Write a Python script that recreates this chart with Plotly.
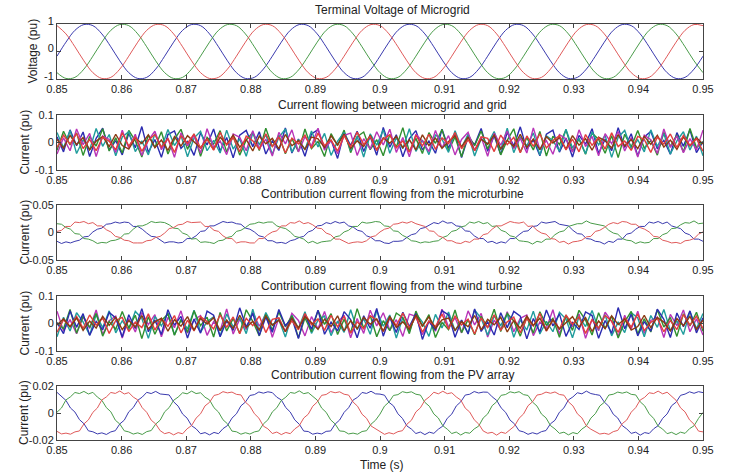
import numpy as np
import plotly.graph_objects as go

# ---------------- data ----------------
t_start, t_end = 0.85, 0.95
x_tickvals = [0.85, 0.86, 0.87, 0.88, 0.89, 0.90, 0.91, 0.92, 0.93, 0.94, 0.95]
x_ticktext = ["0.85", "0.86", "0.87", "0.88", "0.89", "0.9", "0.91", "0.92", "0.93", "0.94", "0.95"]

titles = ["Terminal Voltage of Microgrid",
          "Current flowing between microgrid and grid",
          "Contribution current flowing from the microturbine",
          "Contribution current flowing from the wind turbine",
          "Contribution current flowing from the PV array"]
ylabels = ["Voltage (pu)", "Current (pu)", "Current (pu)", "Current (pu)", "Current (pu)"]
y_tickvals = [[-1, 0, 1], [-0.1, 0, 0.1], [-0.05, 0, 0.05], [-0.1, 0, 0.1], [-0.02, 0, 0.02]]
y_ticktext = [["-1", "0", "1"], ["-0.1", "0", "0.1"], ["-0.05", "0", "0.05"],
              ["-0.1", "0", "0.1"], ["-0.02", "0", "0.02"]]

# terminal voltage (pu), three phases
volt_red = [.94,.64,.17,-.34,-.77,-.98,-.94,-.64,-.17,.34,.77,.98,
            .94,.64,.17,-.34,-.77,-.98,-.94,-.64,-.17,.34,.77,.98,
            .94,.64,.17,-.34,-.77,-.98,-.94,-.64,-.17,.34,.77,.98,
            .94,.64,.17,-.34,-.77,-.98,-.94,-.64,-.17,.34,.77,.98,
            .94,.64,.17,-.34,-.77,-.98,-.94,-.64,-.17,.34,.77,.98,
            .94,.64,.17,-.34,-.77,-.98,-.94,-.64,-.17,.34,.77,.98,
            .94]
volt_blue = [-.17,.34,.77,.98,.94,.64,.17,-.34,-.77,-.98,-.94,-.64,
             -.17,.34,.77,.98,.94,.64,.17,-.34,-.77,-.98,-.94,-.64,
             -.17,.34,.77,.98,.94,.64,.17,-.34,-.77,-.98,-.94,-.64,
             -.17,.34,.77,.98,.94,.64,.17,-.34,-.77,-.98,-.94,-.64,
             -.17,.34,.77,.98,.94,.64,.17,-.34,-.77,-.98,-.94,-.64,
             -.17,.34,.77,.98,.94,.64,.17,-.34,-.77,-.98,-.94,-.64,
             -.17]
volt_green = [-.77,-.98,-.94,-.64,-.17,.34,.77,.98,.94,.64,.17,-.34,
              -.77,-.98,-.94,-.64,-.17,.34,.77,.98,.94,.64,.17,-.34,
              -.77,-.98,-.94,-.64,-.17,.34,.77,.98,.94,.64,.17,-.34,
              -.77,-.98,-.94,-.64,-.17,.34,.77,.98,.94,.64,.17,-.34,
              -.77,-.98,-.94,-.64,-.17,.34,.77,.98,.94,.64,.17,-.34,
              -.77,-.98,-.94,-.64,-.17,.34,.77,.98,.94,.64,.17,-.34,
              -.77]

# noisy currents (pu), grid current / wind turbine
noise_blue = [0.021,-0.034,0.046,-0.012,0.038,-0.051,0.015,0.052,-0.028,0.007,-0.045,0.033,-0.019,0.058,-0.036,0.011,-0.054,0.029,0.042,-0.022,0.004,-0.047,0.035,-0.009,0.049,-0.031,0.018,-0.056,0.027,0.044,-0.015,0.039,-0.042,0.006,-0.029,0.053,-0.038,0.013,-0.05,0.031,0.047,-0.024,0.009,-0.058,0.036,-0.011,0.041,-0.033,0.022,-0.046,0.055,-0.017,0.028,-0.052,0.014,0.043,-0.027,0.005,-0.039,0.048,-0.021,0.034,-0.055,0.019,-0.008,0.051,-0.032,0.024,-0.044,0.037,-0.013,0.057,-0.025,0.01,-0.048,0.03,0.045,-0.035,0.016,-0.053,0.026,-0.006,0.05,-0.04,0.012,-0.03,0.054,-0.018,0.032,-0.049,0.02,0.04,-0.023,0.008,-0.043,0.036,-0.014,0.046,-0.037,0.003]
noise_green = [-0.028,0.041,-0.009,0.035,-0.047,0.022,-0.013,0.05,-0.031,0.017,-0.038,0.044,0.006,-0.053,0.027,-0.018,0.039,-0.042,0.012,0.048,-0.025,0.031,-0.05,0.019,-0.006,0.043,-0.035,0.024,-0.046,0.009,0.037,-0.029,0.052,-0.015,0.026,-0.041,0.014,-0.033,0.049,-0.022,0.004,-0.051,0.032,-0.011,0.045,-0.037,0.021,0.038,-0.026,0.01,-0.048,0.029,-0.017,0.054,-0.034,0.015,-0.04,0.036,-0.003,0.047,-0.03,0.02,-0.052,0.028,-0.012,0.042,-0.024,0.033,-0.045,0.008,0.05,-0.036,0.018,-0.027,0.04,-0.049,0.023,-0.008,0.046,-0.032,0.013,-0.043,0.034,0.011,-0.039,0.025,-0.055,0.03,-0.016,0.044,-0.021,0.007,-0.046,0.037,-0.014,0.027,-0.035,0.051,-0.019,0.003]
noise_cyan = [0.036,-0.019,0.044,-0.04,0.01,-0.027,0.051,-0.014,0.029,-0.048,0.02,0.039,-0.033,0.006,-0.045,0.032,-0.021,0.047,-0.011,0.025,-0.052,0.016,0.041,-0.03,0.008,-0.038,0.045,-0.024,0.013,-0.05,0.034,-0.007,0.028,-0.043,0.019,0.049,-0.035,0.011,-0.026,0.042,-0.016,0.033,-0.047,0.005,0.037,-0.029,0.022,-0.053,0.031,-0.01,0.046,-0.039,0.017,-0.022,0.05,-0.032,0.009,-0.044,0.027,0.012,-0.036,0.043,-0.018,0.03,-0.049,0.014,-0.005,0.04,-0.028,0.052,-0.037,0.021,-0.012,0.035,-0.046,0.024,0.007,-0.031,0.048,-0.02,0.015,-0.041,0.038,-0.009,0.026,-0.054,0.019,0.044,-0.023,0.01,-0.034,0.046,-0.015,0.032,-0.042,0.006,0.039,-0.027,0.023,-0.048]
noise_magenta = [-0.042,0.017,-0.03,0.049,-0.008,0.033,-0.051,0.024,0.011,-0.036,0.045,-0.02,0.03,-0.047,0.008,0.041,-0.026,0.015,-0.054,0.035,-0.012,0.027,-0.039,0.05,-0.017,0.006,-0.044,0.031,0.019,-0.03,0.043,-0.023,0.012,-0.049,0.037,-0.005,0.046,-0.034,0.021,-0.013,0.052,-0.028,0.009,-0.041,0.026,0.034,-0.047,0.014,-0.024,0.039,-0.009,0.048,-0.036,0.018,-0.052,0.03,0.005,-0.033,0.044,-0.019,0.025,-0.045,0.011,0.037,-0.029,0.02,-0.05,0.034,-0.01,0.042,-0.022,0.016,-0.038,0.053,-0.026,0.007,-0.043,0.029,0.013,-0.035,0.046,-0.015,0.022,-0.048,0.032,-0.004,0.04,-0.031,0.018,-0.053,0.027,0.01,-0.04,0.049,-0.018,0.024,-0.037,0.014,-0.027,0.045]
noise_brown = [0.012,-0.021,0.026,-0.008,0.018,-0.027,0.005,0.022,-0.015,0.03,-0.011,-0.024,0.016,-0.004,0.028,-0.019,0.009,-0.029,0.021,-0.013,0.025,0.003,-0.02,0.014,-0.026,0.019,-0.007,0.027,-0.017,0.011,-0.031,0.023,-0.005,0.015,-0.023,0.029,-0.012,0.007,-0.025,0.02,0.013,-0.018,0.024,-0.009,0.031,-0.022,0.006,-0.014,0.026,-0.028,0.017,-0.003,0.022,-0.019,0.01,-0.027,0.028,-0.011,0.016,-0.021,0.004,0.024,-0.016,0.02,-0.03,0.012,-0.006,0.027,-0.023,0.008,-0.015,0.03,-0.018,0.013,-0.026,0.021,-0.002,0.018,-0.024,0.025,-0.01,0.014,-0.028,0.019,0.006,-0.02,0.029,-0.013,0.011,-0.022,0.023,-0.007,0.026,-0.017,0.009,-0.025,0.02,-0.012,0.017,-0.005]
noise_red = [-0.018,0.027,-0.006,0.033,-0.022,0.011,-0.03,0.019,0.004,-0.026,0.035,-0.013,0.021,-0.032,0.008,0.029,-0.017,0.014,-0.036,0.024,-0.003,0.031,-0.02,0.012,-0.028,0.037,-0.009,0.018,-0.034,0.023,0.006,-0.024,0.032,-0.015,0.02,-0.038,0.016,-0.005,0.027,-0.021,0.034,-0.011,0.009,-0.031,0.025,-0.016,0.038,-0.007,0.022,-0.029,0.013,0.028,-0.019,0.006,-0.035,0.026,-0.012,0.03,-0.025,0.017,-0.004,0.036,-0.023,0.01,-0.03,0.021,0.015,-0.033,0.027,-0.008,0.019,-0.037,0.024,-0.014,0.032,-0.02,0.007,0.025,-0.027,0.012,-0.034,0.029,-0.01,0.018,-0.024,0.035,-0.015,0.005,-0.029,0.022,0.011,-0.036,0.02,-0.006,0.031,-0.018,0.026,-0.011,0.014,-0.032]

# microturbine current (pu)
mt_red = [.002,.004,.011,.011,.019,.018,.020,.016,.018,.012,.012,.005,.001,-.007,-.009,-.014,-.015,-.019,-.019,-.019,-.015,-.014,-.009,-.007,
          -.001,.007,.009,.014,.015,.020,.018,.019,.019,.011,.011,.004,.002,-.006,-.011,-.011,-.019,-.017,-.017,-.019,-.019,-.011,-.011,-.004,
          .001,.003,.012,.012,.018,.017,.021,.016,.018,.014,.008,.007,-.001,-.004,-.012,-.012,-.016,-.020,-.018,-.017,-.018,-.015,-.008,-.006,
          .001,.006,.008,.015,.016,.019,.017,.020,.016,.014,.011,.003,.002,-.006,-.009,-.015,-.015,-.019,-.020,-.016,-.018,-.012,-.012,-.004,
          -.002,.006,.012,.012,.016,.020,.018,.017,.019,.011,.012,.004,-.001,-.003,-.011,-.012,-.018,-.016,-.021,-.017,-.016,-.014,-.008,-.007,
          .002,.004,.009,.015,.018,.016,.020,.019,.015,.015,.009,.006,.001,-.007,-.008,-.014,-.016,-.019,-.018,-.020,-.015,-.014,-.011,-.003,
          .001]
mt_blue = [-.016,-.020,-.017,-.019,-.016,-.014,-.008,-.007,.001,.006,.008,.015,.016,.019,.017,.019,.018,.011,.011,.006,-.001,-.007,-.008,-.014,
           -.019,-.017,-.017,-.019,-.018,-.011,-.011,-.006,.002,.003,.012,.012,.016,.020,.018,.019,.016,.015,.008,.006,.001,-.006,-.008,-.015,
           -.015,-.019,-.018,-.020,-.015,-.013,-.009,-.007,.001,.004,.012,.013,.018,.016,.020,.017,.019,.012,.010,.004,.002,-.006,-.009,-.015,
           -.015,-.019,-.020,-.016,-.016,-.015,-.009,-.004,-.002,.007,.009,.014,.018,.016,.021,.017,.018,.012,.011,.003,.002,-.006,-.011,-.011,
           -.018,-.016,-.020,-.017,-.019,-.011,-.011,-.004,.002,.003,.011,.012,.019,.017,.018,.020,.015,.014,.012,.004,-.002,-.003,-.011,-.012,
           -.016,-.017,-.021,-.016,-.018,-.012,-.012,-.003,-.001,.006,.011,.011,.019,.017,.020,.016,.019,.012,.009,.007,-.001,-.004,-.012,-.012,
           -.016]
mt_green = [.016,.015,.009,.006,-.002,-.003,-.011,-.012,-.015,-.020,-.018,-.019,-.015,-.014,-.011,-.003,-.002,.006,.012,.012,.015,.020,.018,.019,
            .018,.014,.008,.007,-.001,-.004,-.012,-.011,-.018,-.017,-.018,-.020,-.015,-.014,-.009,-.007,.002,.004,.009,.015,.016,.019,.017,.019,
            .019,.012,.009,.007,.001,-.007,-.009,-.012,-.019,-.016,-.020,-.017,-.016,-.015,-.008,-.006,.001,.004,.011,.011,.019,.017,.018,.020,
            .019,.012,.011,.003,.002,-.005,-.009,-.015,-.016,-.019,-.017,-.018,-.016,-.015,-.009,-.006,.002,.004,.010,.012,.019,.017,.020,.016,
            .018,.011,.012,.004,.001,-.006,-.008,-.015,-.016,-.017,-.021,-.016,-.018,-.012,-.012,-.004,.001,.003,.011,.014,.016,.016,.021,.017,
            .015,.014,.012,.004,-.001,-.003,-.011,-.014,-.015,-.020,-.017,-.019,-.018,-.011,-.011,-.004,-.001,.007,.008,.014,.018,.017,.021,.016,
            .017]

# PV array current (pu)
pv_blue = [.0153,.0119,.0093,.0037,.0007,-.0049,-.0079,-.0132,-.0139,-.0155,-.0147,-.0159,-.0140,-.0131,-.0081,-.0053,.0009,.0040,.0094,.0118,.0153,.0144,.0160,.0141,
           .0138,.0134,.0083,.0051,-.0008,-.0038,-.0094,-.0117,-.0154,-.0145,-.0162,-.0144,-.0153,-.0116,-.0093,-.0038,-.0006,.0053,.0081,.0130,.0136,.0156,.0147,.0157,
           .0151,.0117,.0097,.0040,.0007,-.0051,-.0083,-.0134,-.0137,-.0157,-.0149,-.0155,-.0136,-.0133,-.0082,-.0052,.0005,.0039,.0096,.0116,.0152,.0145,.0161,.0142,
           .0140,.0132,.0079,.0053,-.0006,-.0040,-.0096,-.0119,-.0152,-.0141,-.0160,-.0142,-.0151,-.0120,-.0097,-.0039,-.0008,.0052,.0083,.0133,.0139,.0159,.0148,.0155,
           .0154,.0120,.0094,.0038,.0005,-.0053,-.0081,-.0131,-.0140,-.0158,-.0146,-.0156,-.0138,-.0130,-.0080,-.0054,.0006,.0038,.0097,.0119,.0150,.0142,.0162,.0144,
           .0137,.0131,.0081,.0050,-.0009,-.0037,-.0093,-.0118,-.0151,-.0142,-.0164,-.0145,-.0152,-.0117,-.0094,-.0040,-.0007,.0054,.0080,.0131,.0140,.0157,.0146,.0158,
           .0151]
pv_green = [.0006,.0037,.0097,.0120,.0152,.0144,.0160,.0141,.0153,.0118,.0094,.0040,.0009,-.0053,-.0082,-.0132,-.0140,-.0156,-.0147,-.0159,-.0138,-.0130,-.0082,-.0053,
            .0009,.0040,.0094,.0118,.0150,.0142,.0162,.0144,.0150,.0117,.0097,.0039,.0007,-.0050,-.0080,-.0134,-.0139,-.0157,-.0146,-.0156,-.0140,-.0133,-.0081,-.0051,
            .0008,.0039,.0093,.0117,.0152,.0146,.0164,.0143,.0151,.0120,.0096,.0036,.0005,-.0051,-.0081,-.0133,-.0136,-.0155,-.0149,-.0157,-.0137,-.0131,-.0083,-.0054,
            -.0008,.0051,.0081,.0130,.0136,.0158,.0150,.0157,.0139,.0133,.0079,.0050,-.0007,-.0037,-.0094,-.0120,-.0152,-.0141,-.0163,-.0144,-.0150,-.0118,-.0097,-.0037,
            -.0007,.0054,.0083,.0131,.0137,.0157,.0149,.0158,.0136,.0130,.0081,.0051,-.0008,-.0036,-.0093,-.0118,-.0151,-.0142,-.0162,-.0145,-.0154,-.0119,-.0096,-.0038,
            -.0005,.0052,.0079,.0133,.0139,.0155,.0147,.0156,.0138,.0134,.0083,.0053,-.0006,-.0040,-.0097,-.0119,-.0153,-.0143,-.0160,-.0142,-.0151,-.0116,-.0095,-.0040,
            .0004]
pv_red = [-.0136,-.0155,-.0149,-.0157,-.0140,-.0133,-.0081,-.0051,.0005,.0037,.0097,.0119,.0152,.0145,.0163,.0141,.0151,.0118,.0097,.0039,.0005,-.0053,-.0081,-.0131,
          -.0153,-.0144,-.0162,-.0145,-.0154,-.0117,-.0093,-.0038,-.0006,.0053,.0079,.0130,.0138,.0158,.0149,.0155,.0138,.0134,.0080,.0051,-.0005,-.0038,-.0097,-.0117,
          -.0152,-.0141,-.0160,-.0144,-.0153,-.0118,-.0094,-.0037,-.0009,.0050,.0081,.0131,.0137,.0159,.0150,.0157,.0139,.0133,.0081,.0050,-.0009,-.0039,-.0096,-.0118,
          -.0139,-.0158,-.0146,-.0155,-.0138,-.0131,-.0083,-.0054,.0008,.0038,.0094,.0120,.0154,.0142,.0161,.0143,.0150,.0119,.0096,.0036,.0007,-.0050,-.0082,-.0133,
          -.0150,-.0143,-.0164,-.0142,-.0151,-.0120,-.0096,-.0039,-.0007,.0054,.0083,.0133,.0139,.0155,.0146,.0156,.0137,.0132,.0083,.0053,-.0006,-.0036,-.0095,-.0120,
          -.0137,-.0156,-.0150,-.0158,-.0138,-.0129,-.0079,-.0052,.0006,.0040,.0096,.0116,.0150,.0144,.0162,.0142,.0154,.0120,.0094,.0038,.0008,-.0051,-.0083,-.0134,
          -.0140]

# ---------------- styling ----------------
C_BLUE, C_GREEN, C_RED = "#3a3aae", "#4a9c4a", "#e05a5a"
N_BLUE, N_GREEN, N_RED = "#2b2bb0", "#2f8f2f", "#e23c3c"
N_CYAN, N_MAG, N_BROWN = "#1f9c9c", "#b834b8", "#8a3a12"
FONT = "Liberation Sans, Arial, sans-serif"
TXT = "#222222"
AX = "#444444"

# panel vertical extents in pixels (top, bottom) of the 474-px-high figure
M_L, M_R, M_T, M_B = 57, 27, 24, 34
W, H = 730, 474
plot_h = H - M_T - M_B
panel_px = [(24, 79), (115, 170), (205, 260), (296, 351), (386, 440)]
title_px = [10, 104.5, 193.5, 285.5, 374.5]


def py(p):
    return (H - M_B - p) / plot_h


fig = go.Figure()


def add(row, y, color, shape="linear", width=1.0):
    xs = np.linspace(t_start, t_end, len(y))
    sfx = "" if row == 1 else str(row)
    fig.add_trace(go.Scatter(x=xs, y=y, mode="lines", line=dict(color=color, width=width, shape=shape),
                             xaxis="x" + sfx, yaxis="y" + sfx, showlegend=False, hoverinfo="skip"))


NW = 1.4
# panel 1
add(1, volt_blue, C_BLUE, "spline")
add(1, volt_green, C_GREEN, "spline")
add(1, volt_red, C_RED, "spline")
# panel 2
add(2, noise_blue, N_BLUE, width=NW)
add(2, noise_green, N_GREEN, width=NW)
add(2, noise_cyan, N_CYAN, width=NW)
add(2, noise_magenta, N_MAG, width=NW)
add(2, noise_brown, N_BROWN, width=NW)
add(2, noise_red, N_RED, width=NW)
# panel 3
add(3, mt_blue, C_BLUE)
add(3, mt_green, C_GREEN)
add(3, mt_red, C_RED)
# panel 4 (same-type noise, read in reverse order)
add(4, noise_magenta[::-1], N_MAG, width=NW)
add(4, noise_cyan[::-1], N_CYAN, width=NW)
add(4, noise_green[::-1], N_GREEN, width=NW)
add(4, noise_blue[::-1], N_BLUE, width=NW)
add(4, noise_red[::-1], N_RED, width=NW)
add(4, noise_brown[::-1], N_BROWN, width=NW)
# panel 5
add(5, pv_blue, C_BLUE)
add(5, pv_green, C_GREEN)
add(5, pv_red, C_RED)

layout = dict(width=W, height=H, margin=dict(l=M_L, r=M_R, t=M_T, b=M_B),
              paper_bgcolor="white", plot_bgcolor="white",
              font=dict(family=FONT, size=11, color=TXT), showlegend=False)

annotations = []
for i in range(5):
    sfx = "" if i == 0 else str(i + 1)
    top, bot = panel_px[i]
    layout["xaxis" + sfx] = dict(range=[t_start, t_end], anchor="y" + sfx, domain=[0, 1],
                                 tickmode="array", tickvals=x_tickvals, ticktext=x_ticktext,
                                 ticks="inside", ticklen=4, tickcolor=AX, tickwidth=1,
                                 showline=True, linecolor=AX, linewidth=1, mirror="ticks",
                                 showgrid=False, zeroline=False,
                                 tickfont=dict(size=11, color=TXT, family=FONT))
    layout["yaxis" + sfx] = dict(range=[y_tickvals[i][0], y_tickvals[i][2]], anchor="x" + sfx,
                                 domain=[py(bot), py(top)],
                                 tickmode="array", tickvals=y_tickvals[i], ticktext=y_ticktext[i],
                                 ticks="inside", ticklen=4, tickcolor=AX, tickwidth=1,
                                 showline=True, linecolor=AX, linewidth=1, mirror="ticks",
                                 showgrid=False, zeroline=False,
                                 ticklabelshift=-3 if i == 0 else 0,
                                 tickfont=dict(size=11, color=TXT, family=FONT))
    annotations.append(dict(text=titles[i], xref="paper", yref="paper", x=(392 - M_L) / (W - M_L - M_R),
                            y=py(title_px[i]), xanchor="center", yanchor="middle", showarrow=False,
                            font=dict(size=12, color=TXT, family=FONT)))
    lab_x = 32 if i == 0 else 24
    annotations.append(dict(text=ylabels[i], xref="paper", yref="paper",
                            x=(lab_x - M_L) / (W - M_L - M_R), y=py((top + bot) / 2),
                            xanchor="center", yanchor="middle", textangle=-90, showarrow=False,
                            font=dict(size=12, color=TXT, family=FONT)))

annotations.append(dict(text="Time (s)", xref="paper", yref="paper", x=(382 - M_L) / (W - M_L - M_R),
                        y=py(465), xanchor="center", yanchor="middle", showarrow=False,
                        font=dict(size=12, color=TXT, family=FONT)))
layout["annotations"] = annotations
fig.update_layout(**layout)

fig.write_html("out.html", config={"displayModeBar": False},
               post_script="document.body.style.margin='0px';document.body.style.overflow='hidden';")
